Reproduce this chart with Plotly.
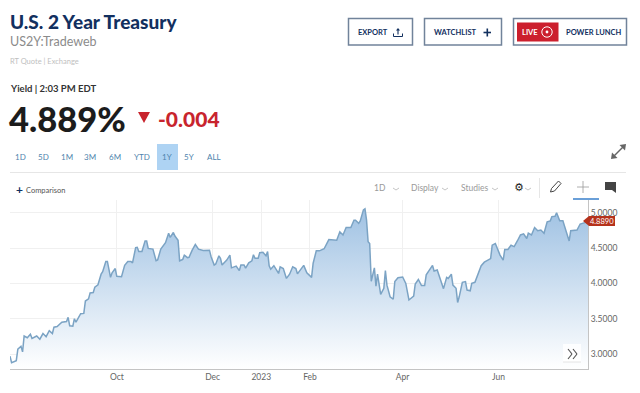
import datetime as dt
import plotly.graph_objects as go

W, H = 640, 393
START = dt.date(2022, 10, 1)

days = [
    -68, -67, -64, -63, -61, -60, -59, -57, -55, -54,
    -51, -49, -47, -45, -43, -41, -40, -38, -35, -32,
    -31, -30, -28, -27, -26, -23, -21, -20, -18, -17,
    -15, -14, -12, -10, -9, -7, -6, -4, -3, -1,
    0, 3, 5, 7, 9, 10, 12, 13, 14, 16,
    18, 19, 20, 23, 25, 26, 28, 31, 33, 34,
    36, 37, 39, 40, 42, 43, 45, 46, 48, 50,
    52, 55, 59, 60, 62, 63, 65, 66, 67, 70,
    72, 73, 76, 78, 79, 81, 82, 84, 86, 87,
    88, 90, 91, 93, 95, 96, 97, 98, 100, 101,
    103, 104, 106, 108, 110, 112, 114, 115, 119, 121,
    124, 125, 127, 129, 132, 135, 140, 142, 144, 146,
    149, 151, 152, 154, 155, 157, 158, 159, 160, 161,
    162, 164, 165, 166, 168, 170, 171, 172, 174, 176,
    177, 179, 182, 184, 186, 189, 190, 192, 194, 196,
    197, 201, 202, 204, 206, 208, 210, 211, 213, 214,
    216, 217, 218, 220, 222, 223, 225, 226, 228, 232,
    234, 238, 239, 241, 244, 246, 247, 249, 251, 253,
    255, 257, 259, 261, 262, 264, 266, 268, 270, 272,
    274, 276, 277, 279, 280, 282, 284, 288, 289, 293,
    295, 298, 300,
]
yields = [
    2.97, 2.877, 2.906, 3.07, 3.11, 3.03, 3.255, 3.23, 3.28, 3.22,
    3.255, 3.21, 3.29, 3.245, 3.33, 3.29, 3.38, 3.39, 3.45, 3.46,
    3.52, 3.40, 3.395, 3.50, 3.45, 3.57, 3.575, 3.75, 3.78, 3.865,
    3.87, 3.945, 3.98, 4.13, 4.165, 4.31, 4.31, 4.085, 4.15, 4.21,
    4.10, 4.095, 4.255, 4.31, 4.31, 4.29, 4.505, 4.51, 4.45, 4.45,
    4.60, 4.60, 4.495, 4.485, 4.32, 4.33, 4.485, 4.575, 4.71, 4.65,
    4.72, 4.67, 4.61, 4.32, 4.34, 4.40, 4.365, 4.37, 4.47, 4.55,
    4.485, 4.465, 4.47, 4.38, 4.26, 4.275, 4.39, 4.355, 4.26, 4.33,
    4.40, 4.22, 4.245, 4.18, 4.26, 4.26, 4.215, 4.29, 4.32, 4.405,
    4.355, 4.355, 4.435, 4.44, 4.39, 4.45, 4.25, 4.20, 4.25, 4.21,
    4.14, 4.235, 4.21, 4.07, 4.13, 4.235, 4.21, 4.135, 4.255, 4.15,
    4.085, 4.285, 4.46, 4.46, 4.49, 4.62, 4.61, 4.73, 4.685, 4.79,
    4.79, 4.895, 4.895, 4.85, 4.885, 5.04, 5.055, 4.895, 4.59, 4.565,
    4.03, 4.22, 3.96, 4.13, 3.845, 3.93, 4.18, 3.975, 3.81, 3.775,
    4.025, 4.08, 4.09, 4.0, 3.765, 3.82, 3.99, 4.055, 3.97, 3.97,
    4.12, 4.255, 4.175, 4.19, 4.07, 3.925, 4.085, 4.07, 4.13, 3.975,
    3.93, 3.73, 3.81, 4.015, 4.025, 3.905, 3.895, 4.0, 4.015, 4.25,
    4.30, 4.35, 4.54, 4.565, 4.40, 4.33, 4.48, 4.48, 4.54, 4.52,
    4.60, 4.685, 4.70, 4.635, 4.71, 4.685, 4.79, 4.745, 4.755, 4.71,
    4.87, 4.885, 4.945, 4.95, 5.0, 4.885, 4.885, 4.60, 4.745, 4.755,
    4.84, 4.86, 4.889,
]
x_tick_dates = ["2022-10-01", "2022-12-01", "2023-01-01", "2023-02-01", "2023-04-01", "2023-06-01"]
x_tick_labels = ["Oct", "Dec", "2023", "Feb", "Apr", "Jun"]
y_ticks = [3.0, 3.5, 4.0, 4.5, 5.0]
range_buttons = ["1D", "5D", "1M", "3M", "6M", "YTD", "1Y", "5Y", "ALL"]

dates = [START + dt.timedelta(days=d) for d in days]

FONT = "Lato"
NAVY = "#12305f"


def px(x):
    return x / W


def py(y):
    return 1 - y / H


annotations = []
shapes = []


def text(x, y, s, size, color, bold=False, anchor="left", family=FONT, weight=None):
    w = weight if weight else (700 if bold else 400)
    annotations.append(dict(
        xref="paper", yref="paper", x=px(x), y=py(y), text=s,
        showarrow=False, xanchor=anchor, yanchor="middle",
        font=dict(family=family, size=size, color=color, weight=w), borderpad=0, borderwidth=0,
    ))


def rect(x0, y0, x1, y1, line=None, fill=None, width=1.5):
    shapes.append(dict(
        type="rect", xref="paper", yref="paper", x0=px(x0), x1=px(x1), y0=py(y0), y1=py(y1),
        line=dict(color=line or "rgba(0,0,0,0)", width=width if line else 0),
        fillcolor=fill or "rgba(0,0,0,0)", layer="above",
    ))


def seg(x0, y0, x1, y1, color, width=1.0):
    shapes.append(dict(
        type="line", xref="paper", yref="paper", x0=px(x0), x1=px(x1), y0=py(y0), y1=py(y1),
        line=dict(color=color, width=width), layer="above",
    ))


def poly(points, fill, line=None, width=0):
    path = "M " + " L ".join(f"{px(a):.5f},{py(b):.5f}" for a, b in points) + " Z"
    shapes.append(dict(
        type="path", xref="paper", yref="paper", path=path, fillcolor=fill,
        line=dict(color=line or fill, width=width), layer="above",
    ))


def circle(cx, cy, r, line=None, fill=None, width=1.0):
    shapes.append(dict(
        type="circle", xref="paper", yref="paper", x0=px(cx - r), x1=px(cx + r),
        y0=py(cy - r), y1=py(cy + r), line=dict(color=line or "rgba(0,0,0,0)", width=width),
        fillcolor=fill or "rgba(0,0,0,0)", layer="above",
    ))


def chevron(x, y, color="#b5b5b5"):
    seg(x - 3, y - 1, x, y + 1, color, 0.8)
    seg(x, y + 1, x + 3, y - 1, color, 0.8)


# Header
text(9.5, 22, "U.S. 2 Year Treasury", 19, NAVY, True, weight=900)
text(9.5, 42, "US2Y:Tradeweb", 12.5, "#8b8b8b")
text(9.5, 61, "RT Quote | Exchange", 7.5, "#c0c0c0")
text(9.5, 88, "Yield | 2:03 PM EDT", 9.5, "#333333", True)
text(9, 118, "4.889%", 34.5, "#1c1c1c", True, weight=900)
poly([(138, 112), (150, 112), (144, 123)], "#c8242d")
text(157.5, 118, "-0.004", 21, "#c8242d", True, weight=900)

# Buttons
rect(348.5, 18.5, 412.5, 45, line="#71839a")
text(373, 32, "EXPORT", 7.5, NAVY, True, "center")
seg(398, 29, 398, 34.5, NAVY, 1.1)
poly([(398, 28), (396, 30.5), (400, 30.5)], NAVY)
seg(393.5, 33.5, 393.5, 36.5, NAVY, 1)
seg(393.5, 36.5, 402.5, 36.5, NAVY, 1)
seg(402.5, 33.5, 402.5, 36.5, NAVY, 1)

rect(424.5, 18.5, 501.5, 45, line="#71839a")
text(455, 32, "WATCHLIST", 7.5, NAVY, True, "center")
seg(483.5, 32.5, 491, 32.5, NAVY, 1.6)
seg(487.3, 28.5, 487.3, 36.5, NAVY, 1.6)

rect(513.5, 18.5, 626.5, 45, line="#71839a")
rect(517, 22.5, 558.5, 41.5, fill="#cc1f2d")
text(530, 32, "LIVE", 7.5, "#ffffff", True, "center")
circle(547, 32, 5.2, line="#ffffff", width=1)
circle(547, 32, 1.4, fill="#ffffff", width=0)
text(593, 32, "POWER LUNCH", 7.5, NAVY, True, "center")

# Expand icon
seg(613, 157, 624, 146, "#666666", 1.5)
poly([(626, 144), (619.5, 145), (625, 150.5)], "#666666")
poly([(611, 159), (617.5, 158), (612, 152.5)], "#666666")

# Range selector
rect(157, 144, 178, 170, fill="#aed3f3")
for label, cx in zip(range_buttons, [20, 43, 66.5, 90, 115, 142, 167, 189, 214]):
    text(cx, 157, label, 8, "#4f84ad", False, "center")
seg(10, 172.5, 626, 172.5, "#e6e6e6", 1)

# Toolbar
text(19, 189.5, "+", 12, NAVY, True, "center")
text(26, 190, "Comparison", 7.5, "#555555")
text(379.5, 188, "1D", 8.5, "#9a9a9a", False, "center")
chevron(396, 189)
text(425, 188, "Display", 8.5, "#9a9a9a", False, "center")
chevron(445, 189)
text(474, 188, "Studies", 8.5, "#9a9a9a", False, "center")
chevron(495, 189)
text(518.5, 187.5, "⚙", 11, "#222222", True, "center", "DejaVu Sans")
chevron(528, 189)
seg(539.5, 178, 539.5, 198, "#e6e6e6", 1)
# Outlined pencil
seg(551.5, 188.5, 558.5, 181, "#444444", 1)
seg(554.5, 191, 561, 183.5, "#444444", 1)
seg(558.5, 181, 561, 183.5, "#444444", 1)
seg(551.5, 188.5, 550.5, 192, "#444444", 1)
seg(550.5, 192, 554.5, 191, "#444444", 1)
seg(583, 181, 583, 193, "#999999", 0.8)
seg(577, 187, 589, 187, "#999999", 0.8)
rect(605, 182, 616, 190, fill="#444444")
poly([(612, 190), (616, 190), (616, 193)], "#444444")
rect(573, 198, 599, 200, fill="#6a9fd8")

# Last-price tag
poly([(583, 221), (589, 216), (615, 216), (615, 226), (589, 226)], "#b5321c")
text(602, 221.5, "4.8890", 7.5, "#ffffff", False, "center")

# Scroll button
rect(563, 344, 581, 362, fill="rgba(255,255,255,0.85)")
seg(563, 362, 581, 362, "#e4e4e4", 1)
for off in (0, 5):
    seg(568 + off, 349, 572 + off, 354, "#555555", 1.2)
    seg(572 + off, 354, 568 + off, 359, "#555555", 1.2)

fig = go.Figure(go.Scatter(
    x=dates, y=yields, mode="lines", fill="tozeroy",
    line=dict(color="#7ba3c4", width=1.5),
    fillgradient=dict(
        type="vertical", start=2.79, stop=5.05,
        colorscale=[[0, "#ffffff"], [1, "#a0c2e3"]],
    ),
    hoverinfo="skip", showlegend=False,
))

fig.update_layout(
    width=W, height=H, autosize=False,
    margin=dict(l=0, r=0, t=0, b=0),
    paper_bgcolor="#ffffff", plot_bgcolor="#ffffff",
    font=dict(family=FONT),
    annotations=annotations, shapes=shapes,
    xaxis=dict(
        domain=[px(10), px(588)], anchor="y",
        range=[START + dt.timedelta(days=-67.5), START + dt.timedelta(days=300.6)],
        tickmode="array", tickvals=x_tick_dates, ticktext=x_tick_labels,
        showgrid=True, gridcolor="#f0f0f0", gridwidth=1,
        showline=True, linecolor="#c4c4c4", linewidth=1,
        ticks="", tickfont=dict(family=FONT, size=8.5, color="#666666"),
        zeroline=False, automargin=False, fixedrange=True,
    ),
    yaxis=dict(
        domain=[1 - 369 / H, 1 - 200 / H], anchor="x", side="right",
        range=[2.788, 5.18],
        tickmode="array", tickvals=y_ticks, tickformat=".4f",
        showgrid=True, gridcolor="#f0f0f0", gridwidth=1,
        showline=True, linecolor="#c4c4c4", linewidth=1,
        ticks="", tickfont=dict(family=FONT, size=8.5, color="#666666"),
        zeroline=False, automargin=False, fixedrange=True,
    ),
)

fig.write_html(
    "out.html",
    config=dict(displayModeBar=False, responsive=False),
    post_script="document.body.style.margin='0';document.documentElement.style.overflow='hidden';",
)
